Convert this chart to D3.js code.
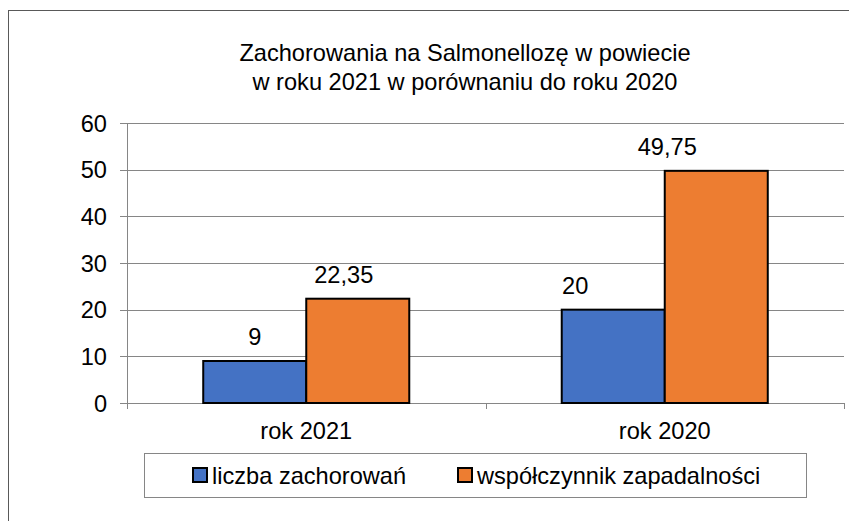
<!DOCTYPE html>
<html><head><meta charset="utf-8">
<script src="https://cdn.jsdelivr.net/npm/d3@7"></script>
<style>body{margin:0;background:#fff}svg{display:block;font-family:"Liberation Sans",Arial,sans-serif}</style>
</head><body>
<svg id="c" width="849" height="521"></svg>
<script>
const categories = ["rok 2021", "rok 2020"];
const seriesNames = ["liczba zachorowań", "współczynnik zapadalności"];
const liczba = [9, 20];
const wspolczynnik = [22.35, 49.75];
const labelText = [["9", "20"], ["22,35", "49,75"]];
const yTicks = [0, 10, 20, 30, 40, 50, 60];
const titleLines = ["Zachorowania na Salmonellozę w powiecie", "w roku 2021 w porównaniu do roku 2020"];

const colors = ["#4472C4", "#ED7D31"];
const labelDx = [[0, -38], [-14, -49]];
const fs = 23.6;

const svg = d3.select("#c");
svg.append("rect").attr("x", 8.5).attr("y", 10.5).attr("width", 1000).attr("height", 600)
  .attr("fill", "#fff").attr("stroke", "#595959").attr("stroke-width", 1);

const L = 127, R = 844, T = 123, B = 403;
const x = d3.scaleBand().domain(categories).range([L, R]).paddingInner(0).paddingOuter(0);
const y = d3.scaleLinear().domain([0, 60]).range([B, T]);
const inner = d3.scaleBand().domain([0, 1]).range([0, x.bandwidth()]).paddingOuter(0.74);

// title
svg.append("g").selectAll("text").data(titleLines).join("text")
  .attr("x", 465).attr("y", (d, i) => 61 + i * 29).attr("text-anchor", "middle")
  .attr("font-size", fs).attr("fill", "#000").text(d => d);

// gridlines
svg.append("g").selectAll("line").data(yTicks).join("line")
  .attr("x1", L - 7).attr("x2", R).attr("y1", d => Math.round(y(d)) + 0.5).attr("y2", d => Math.round(y(d)) + 0.5)
  .attr("stroke", "#868686").attr("stroke-width", 1);
// y axis line
svg.append("line").attr("x1", L + 0.5).attr("x2", L + 0.5).attr("y1", T).attr("y2", B + 6)
  .attr("stroke", "#868686");
// x ticks
const xt = [L, x(categories[1]), R];
svg.append("g").selectAll("line").data(xt).join("line")
  .attr("x1", d => Math.round(d) + 0.5).attr("x2", d => Math.round(d) + 0.5)
  .attr("y1", B).attr("y2", B + 6).attr("stroke", "#868686");

// y labels
svg.append("g").selectAll("text").data(yTicks).join("text")
  .attr("x", 107).attr("y", d => y(d) + 8.5).attr("text-anchor", "end")
  .attr("font-size", fs).text(d => d);

// x labels
svg.append("g").selectAll("text").data(categories).join("text")
  .attr("x", d => x(d) + x.bandwidth() / 2).attr("y", 439).attr("text-anchor", "middle")
  .attr("font-size", fs).text(d => d);

// bars
const series = [liczba, wspolczynnik];
series.forEach((vals, s) => {
  const g = svg.append("g");
  g.selectAll("rect").data(vals).join("rect")
    .attr("x", (d, i) => x(categories[i]) + inner(s))
    .attr("y", d => y(d))
    .attr("width", inner.bandwidth())
    .attr("height", d => y(0) - y(d))
    .attr("fill", colors[s]).attr("stroke", "#000").attr("stroke-width", 2);
  g.selectAll("text").data(vals).join("text")
    .attr("x", (d, i) => x(categories[i]) + inner(s) + inner.bandwidth() / 2 + labelDx[s][i])
    .attr("y", d => y(d) - 16).attr("text-anchor", "middle")
    .attr("font-size", fs).text((d, i) => labelText[s][i]);
});

// legend
svg.append("rect").attr("x", 144.5).attr("y", 453.5).attr("width", 662).attr("height", 44)
  .attr("fill", "#fff").attr("stroke", "#868686");
const lx = [193, 458];
seriesNames.forEach((n, i) => {
  svg.append("rect").attr("x", lx[i]).attr("y", 468).attr("width", 14).attr("height", 14)
    .attr("fill", colors[i]).attr("stroke", "#000").attr("stroke-width", 2);
  svg.append("text").attr("x", lx[i] + 19).attr("y", 483.5).attr("font-size", fs).text(n);
});
</script>
</body></html>
